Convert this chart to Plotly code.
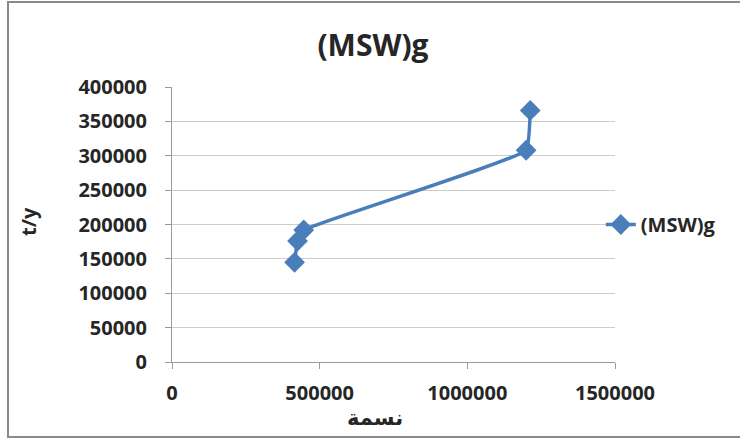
import plotly.graph_objects as go

# Population (نسمة) versus generated municipal solid waste (t/y)
population = [415000, 425000, 446000, 1199000, 1213000]
msw_tons = [145000, 176000, 192000, 308000, 366000]
series_name = "(MSW)g"

x_ticks = [0, 500000, 1000000, 1500000]
y_ticks = [0, 50000, 100000, 150000, 200000, 250000, 300000, 350000, 400000]

blue = "#4A7EBB"
text_col = "#262626"
tick_font = dict(family="Open Sans", size=20, color=text_col, weight=700)

fig = go.Figure()
fig.add_trace(go.Scatter(
    x=population, y=msw_tons, name=series_name,
    mode="lines+markers",
    line=dict(color=blue, width=3.5, shape="spline", smoothing=0.3),
    marker=dict(symbol="diamond", size=16, color=blue),
))

fig.update_layout(
    width=740, height=441,
    margin=dict(l=172, r=125, t=87, b=79),
    paper_bgcolor="white", plot_bgcolor="white",
    title=dict(text="<b>(MSW)g</b>", x=(373 - 172) / 443, xref="paper", xanchor="center",
               y=1 - 45 / 441, yanchor="middle",
               font=dict(family="Open Sans", size=30, color=text_col)),
    showlegend=True,
    legend=dict(x=0.968, xanchor="left", y=0.5, yanchor="middle",
                bgcolor="rgba(0,0,0,0)", itemwidth=30,
                font=dict(family="Open Sans", size=20, color=text_col, weight=700)),
    xaxis=dict(range=[0, 1500000], tickvals=x_ticks, ticktext=[str(v) for v in x_ticks],
               showgrid=False, zeroline=False, showline=True, linecolor="#9a9a9a",
               linewidth=1, ticks="outside", ticklen=6, tickcolor="#9a9a9a",
               ticklabelstandoff=7, tickfont=tick_font, fixedrange=True),
    yaxis=dict(range=[0, 400000], tickvals=y_ticks, ticktext=[str(v) for v in y_ticks],
               showgrid=True, gridcolor="#cccccc", gridwidth=1, zeroline=False,
               showline=True, linecolor="#9a9a9a", linewidth=1,
               ticks="outside", ticklen=6, tickcolor="#9a9a9a",
               ticklabelstandoff=14, tickfont=tick_font, fixedrange=True),
    annotations=[
        dict(text="<b>t/y</b>", xref="paper", yref="paper",
             x=(28 - 172) / 443, y=(362 - 222) / 275, textangle=-90,
             showarrow=False, font=dict(family="Open Sans", size=20, color=text_col),
             xanchor="center", yanchor="middle"),
        dict(text="<b>نسمة</b>", xref="paper", yref="paper",
             x=(375 - 172) / 443, y=-(418 - 362) / 275,
             showarrow=False, font=dict(family="DejaVu Sans", size=21, color=text_col),
             xanchor="center", yanchor="middle"),
    ],
    shapes=[
        dict(type="rect", xref="paper", yref="paper",
             x0=(8 - 172) / 443, x1=(760 - 172) / 443,
             y0=-(437 - 362) / 275, y1=1 + (87 - 2) / 275,
             line=dict(color="#8a8a8a", width=2), layer="below"),
    ],
)

fig.write_html("out.html")
